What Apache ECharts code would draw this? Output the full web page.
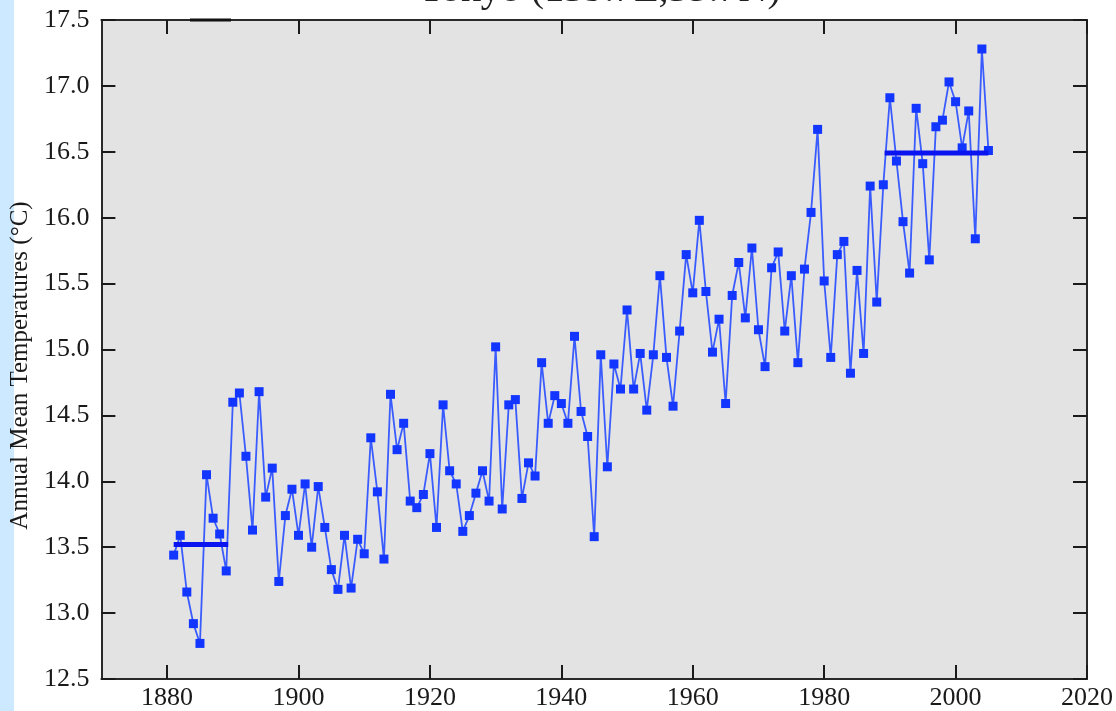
<!DOCTYPE html>
<html>
<head>
<meta charset="utf-8">
<title>Tokyo annual mean temperature</title>
<script src="https://cdn.jsdelivr.net/npm/echarts@6/dist/echarts.min.js"></script>
<style>
  html, body { margin: 0; padding: 0; background: #ffffff; }
  #chart { width: 1116px; height: 711px; }
</style>
</head>
<body>
<div id="chart"></div>
<script>
// Annual mean temperature at Tokyo, one value per year starting in firstYear
const firstYear = 1881;
const temps = [
  13.44, 13.59, 13.16, 12.92, 12.77, 14.05, 13.72, 13.60, 13.32, 14.60, // 1881-1890
  14.67, 14.19, 13.63, 14.68, 13.88, 14.10, 13.24, 13.74, 13.94, 13.59, // 1891-1900
  13.98, 13.50, 13.96, 13.65, 13.33, 13.18, 13.59, 13.19, 13.56, 13.45, // 1901-1910
  14.33, 13.92, 13.41, 14.66, 14.24, 14.44, 13.85, 13.80, 13.90, 14.21, // 1911-1920
  13.65, 14.58, 14.08, 13.98, 13.62, 13.74, 13.91, 14.08, 13.85, 15.02, // 1921-1930
  13.79, 14.58, 14.62, 13.87, 14.14, 14.04, 14.90, 14.44, 14.65, 14.59, // 1931-1940
  14.44, 15.10, 14.53, 14.34, 13.58, 14.96, 14.11, 14.89, 14.70, 15.30, // 1941-1950
  14.70, 14.97, 14.54, 14.96, 15.56, 14.94, 14.57, 15.14, 15.72, 15.43, // 1951-1960
  15.98, 15.44, 14.98, 15.23, 14.59, 15.41, 15.66, 15.24, 15.77, 15.15, // 1961-1970
  14.87, 15.62, 15.74, 15.14, 15.56, 14.90, 15.61, 16.04, 16.67, 15.52, // 1971-1980
  14.94, 15.72, 15.82, 14.82, 15.60, 14.97, 16.24, 15.36, 16.25, 16.91, // 1981-1990
  16.43, 15.97, 15.58, 16.83, 16.41, 15.68, 16.69, 16.74, 17.03, 16.88, // 1991-2000
  16.53, 16.81, 15.84, 17.28, 16.51                                     // 2001-2005
];

// Period means shown as thick horizontal bars: [startYear, endYear, mean]
const earlyMean = [1881, 1889.3, 13.52];
const recentMean = [1989.2, 2005, 16.49];

// Axis ticks
const xTicks = [1880, 1900, 1920, 1940, 1960, 1980, 2000, 2020];
const yMin = 12.5, yMax = 17.5, yStep = 0.5;
const xMin = 1870, xMax = 2020;

const titleText = 'Tokyo (139.7E,35.7N)';
const yName = 'Annual Mean Temperatures (\u00B0C)';

const series = temps.map((t, i) => [firstYear + i, t]);
const meanLine = m => [[m[0], m[2]], [m[1], m[2]]];

const serif = "'Liberation Serif', 'DejaVu Serif', 'Times New Roman', serif";
const frame = { show: true, onZero: false, lineStyle: { color: '#2a2a2a', width: 2 } };
const inTick = { show: true, inside: true, length: 14, lineStyle: { color: '#1a1a1a', width: 2 } };

const chart = echarts.init(document.getElementById('chart'), null, { renderer: 'canvas' });

chart.setOption({
  animation: false,
  backgroundColor: '#ffffff',
  title: {
    text: titleText,
    left: 595, textAlign: 'center',
    top: -35,
    textStyle: { fontFamily: serif, fontSize: 40, fontWeight: 'normal', color: '#222' }
  },
  graphic: [
    { type: 'rect', left: 0, top: 0, z: -1, shape: { width: 14, height: 711 }, style: { fill: '#cde9ff' } },
    { type: 'line', z: 10, shape: { x1: 190, y1: 20, x2: 231, y2: 20 }, style: { stroke: '#111', lineWidth: 3 } }
  ],
  grid: {
    left: 100, right: 25, top: 20, bottom: 28,
    show: true, backgroundColor: '#e3e3e3', borderWidth: 0
  },
  xAxis: [
    {
      type: 'value', min: xMin, max: xMax, position: 'bottom',
      axisLine: frame,
      axisTick: Object.assign({ customValues: xTicks }, inTick),
      axisLabel: {
        customValues: xTicks, margin: 6, color: '#1a1a1a',
        fontFamily: serif, fontSize: 26,
        formatter: v => String(v)
      },
      splitLine: { show: false }
    },
    {
      type: 'value', min: xMin, max: xMax, position: 'top',
      axisLine: frame,
      axisTick: Object.assign({ customValues: xTicks }, inTick),
      axisLabel: { show: false },
      splitLine: { show: false }
    }
  ],
  yAxis: [
    {
      type: 'value', min: yMin, max: yMax, interval: yStep, position: 'left',
      axisLine: frame, axisTick: inTick,
      axisLabel: {
        margin: 12, color: '#1a1a1a', fontFamily: serif, fontSize: 26,
        formatter: v => v.toFixed(1)
      },
      splitLine: { show: false },
      name: yName, nameLocation: 'middle', nameRotate: 90, nameGap: 66,
      nameTextStyle: { fontFamily: serif, fontSize: 25, color: '#1a1a1a', padding: [0, 32, 0, 0] }
    },
    {
      type: 'value', min: yMin, max: yMax, interval: yStep, position: 'right',
      axisLine: frame, axisTick: inTick,
      axisLabel: { show: false },
      splitLine: { show: false }
    }
  ],
  series: [
    {
      type: 'line', data: series, xAxisIndex: 0, yAxisIndex: 0,
      symbol: 'rect', symbolSize: 9,
      lineStyle: { color: '#3a5cff', width: 1.8 },
      itemStyle: { color: '#1236ff' },
      z: 3
    },
    {
      type: 'line', data: meanLine(earlyMean), symbol: 'none',
      lineStyle: { color: '#0a14f0', width: 5 }, z: 4
    },
    {
      type: 'line', data: meanLine(recentMean), symbol: 'none',
      lineStyle: { color: '#0a14f0', width: 5 }, z: 4
    }
  ]
});
</script>
</body>
</html>
